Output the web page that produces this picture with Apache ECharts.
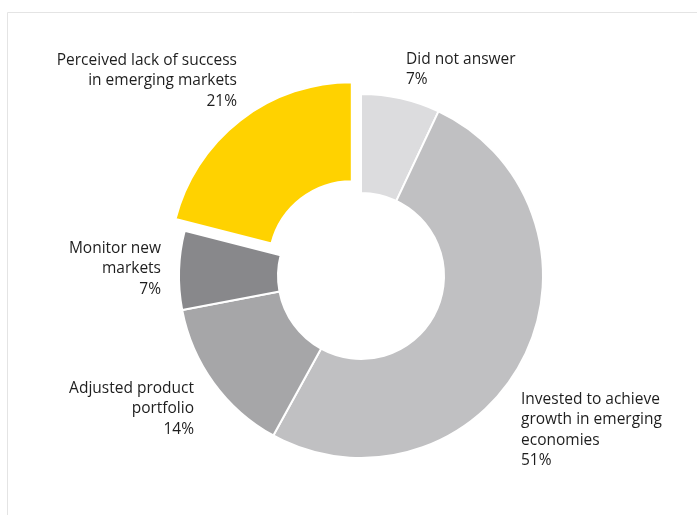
<!DOCTYPE html>
<html>
<head>
<meta charset="utf-8">
<script src="https://cdn.jsdelivr.net/npm/echarts@6/dist/echarts.min.js"></script>
<style>
  html, body { margin: 0; padding: 0; background: #ffffff; }
  #chart { width: 697px; height: 515px; }
</style>
</head>
<body>
<div id="chart"></div>
<script>
// Survey responses, clockwise from twelve o'clock
const categories = [
  'Did not answer',
  'Invested to achieve\ngrowth in emerging\neconomies',
  'Adjusted product\nportfolio',
  'Monitor new\nmarkets',
  'Perceived lack of success\nin emerging markets'
];
const shares = [7, 51, 14, 7, 21];
// The slice that is pulled out of the ring
const pulledOut = [false, false, false, false, true];

const sliceColors = ['#dcdcde', '#c0c0c2', '#a6a6a8', '#88888b', '#ffd200'];

// Label anchors: [x, y-top, text alignment]
const labelAnchors = [
  [406, 49, 'left'],
  [521, 389, 'left'],
  [194, 378, 'right'],
  [161, 238, 'right'],
  [237, 50, 'right']
];

const CENTER = [361, 276];
const RADIUS = [83, 182];
const PULL = 15;

// Direction of the pulled slice: the middle of its arc, measured clockwise from the top
const total = shares.reduce((a, b) => a + b, 0);
const pulledIdx = pulledOut.indexOf(true);
const before = shares.slice(0, pulledIdx).reduce((a, b) => a + b, 0);
const midAngle = (before + shares[pulledIdx] / 2) / total * 2 * Math.PI;
const pullCenter = [CENTER[0] + PULL * Math.sin(midAngle), CENTER[1] - PULL * Math.cos(midAngle)];

const labelStyle = {
  fontFamily: 'Open Sans',
  fontSize: 15.5,
  lineHeight: 20.5,
  color: '#1e1e1e'
};

const chart = echarts.init(document.getElementById('chart'), null, { renderer: 'canvas' });

chart.setOption({
  animation: false,
  backgroundColor: '#ffffff',
  graphic: [{
    type: 'rect',
    silent: true,
    shape: { x: 7.5, y: 12.5, width: 720, height: 540 },
    style: { fill: 'none', stroke: '#e4e4e4', lineWidth: 1 }
  }],
  series: [
    {
      // ring of slices that stay in place, plus every label
      type: 'pie',
      silent: true,
      center: CENTER,
      radius: RADIUS,
      startAngle: 90,
      clockwise: true,
      avoidLabelOverlap: false,
      itemStyle: { borderColor: '#ffffff', borderWidth: 2 },
      label: Object.assign({
        show: true,
        position: 'outside',
        formatter: p => p.name + '\n' + p.value + '%'
      }, labelStyle),
      labelLine: { show: false },
      labelLayout: p => {
        const a = labelAnchors[p.dataIndex];
        return { x: a[0], y: a[1], align: a[2], verticalAlign: 'top' };
      },
      data: categories.map((name, i) => ({
        name: name,
        value: shares[i],
        itemStyle: pulledOut[i]
          ? { color: 'rgba(0,0,0,0)', borderWidth: 0 }
          : { color: sliceColors[i] },
        label: { align: labelAnchors[i][2] }
      }))
    },
    {
      // the pulled-out slice, drawn from a shifted centre
      type: 'pie',
      silent: true,
      z: 3,
      center: pullCenter,
      radius: RADIUS,
      startAngle: 90,
      clockwise: true,
      label: { show: false },
      labelLine: { show: false },
      data: categories.map((name, i) => ({
        name: name,
        value: shares[i],
        itemStyle: pulledOut[i]
          ? { color: sliceColors[i], borderColor: '#ffffff', borderWidth: 2 }
          : { color: 'rgba(0,0,0,0)', borderWidth: 0 }
      }))
    }
  ]
});
</script>
</body>
</html>
